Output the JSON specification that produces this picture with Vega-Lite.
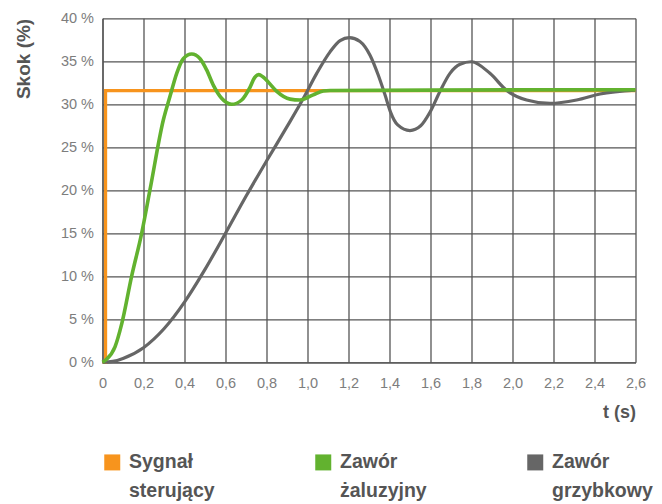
{
  "$schema": "https://vega.github.io/schema/vega-lite/v6.json",
  "width": 533,
  "height": 344,
  "autosize": {"type": "none"},
  "padding": {"left": 102.5, "top": 18.3, "right": 26.5, "bottom": 141.7},
  "background": "white",
  "config": {"view": {"stroke": null}, "font": "Liberation Sans"},
  "data": {"values": [
    {"s": "Sygnał sterujący", "t": 0, "v": 0},
    {"s": "Sygnał sterujący", "t": 0.015, "v": 0},
    {"s": "Sygnał sterujący", "t": 0.015, "v": 31.6},
    {"s": "Sygnał sterujący", "t": 2.6, "v": 31.6},

    {"s": "Zawór grzybkowy", "t": 0, "v": 0},
    {"s": "Zawór grzybkowy", "t": 0.05, "v": 0.1},
    {"s": "Zawór grzybkowy", "t": 0.1, "v": 0.45},
    {"s": "Zawór grzybkowy", "t": 0.2, "v": 1.7},
    {"s": "Zawór grzybkowy", "t": 0.3, "v": 3.9},
    {"s": "Zawór grzybkowy", "t": 0.4, "v": 7.0},
    {"s": "Zawór grzybkowy", "t": 0.5, "v": 10.8},
    {"s": "Zawór grzybkowy", "t": 0.6, "v": 15.0},
    {"s": "Zawór grzybkowy", "t": 0.7, "v": 19.3},
    {"s": "Zawór grzybkowy", "t": 0.8, "v": 23.4},
    {"s": "Zawór grzybkowy", "t": 0.9, "v": 27.4},
    {"s": "Zawór grzybkowy", "t": 0.98, "v": 30.7},
    {"s": "Zawór grzybkowy", "t": 1.045, "v": 33.6},
    {"s": "Zawór grzybkowy", "t": 1.11, "v": 36.1},
    {"s": "Zawór grzybkowy", "t": 1.159, "v": 37.4},
    {"s": "Zawór grzybkowy", "t": 1.204, "v": 37.75},
    {"s": "Zawór grzybkowy", "t": 1.256, "v": 37.3},
    {"s": "Zawór grzybkowy", "t": 1.305, "v": 35.7},
    {"s": "Zawór grzybkowy", "t": 1.345, "v": 33.4},
    {"s": "Zawór grzybkowy", "t": 1.378, "v": 31.1},
    {"s": "Zawór grzybkowy", "t": 1.405, "v": 29.1},
    {"s": "Zawór grzybkowy", "t": 1.44, "v": 27.6},
    {"s": "Zawór grzybkowy", "t": 1.5, "v": 26.95},
    {"s": "Zawór grzybkowy", "t": 1.552, "v": 27.5},
    {"s": "Zawór grzybkowy", "t": 1.598, "v": 29.1},
    {"s": "Zawór grzybkowy", "t": 1.646, "v": 31.5},
    {"s": "Zawór grzybkowy", "t": 1.695, "v": 33.6},
    {"s": "Zawór grzybkowy", "t": 1.744, "v": 34.65},
    {"s": "Zawór grzybkowy", "t": 1.8, "v": 34.95},
    {"s": "Zawór grzybkowy", "t": 1.89, "v": 33.6},
    {"s": "Zawór grzybkowy", "t": 1.972, "v": 31.6},
    {"s": "Zawór grzybkowy", "t": 2.069, "v": 30.5},
    {"s": "Zawór grzybkowy", "t": 2.183, "v": 30.1},
    {"s": "Zawór grzybkowy", "t": 2.313, "v": 30.5},
    {"s": "Zawór grzybkowy", "t": 2.427, "v": 31.2},
    {"s": "Zawór grzybkowy", "t": 2.6, "v": 31.65},

    {"s": "Zawór żaluzyjny", "t": 0, "v": 0},
    {"s": "Zawór żaluzyjny", "t": 0.017, "v": 0.3},
    {"s": "Zawór żaluzyjny", "t": 0.061, "v": 1.8},
    {"s": "Zawór żaluzyjny", "t": 0.094, "v": 4.5},
    {"s": "Zawór żaluzyjny", "t": 0.142, "v": 10.0},
    {"s": "Zawór żaluzyjny", "t": 0.191, "v": 15.0},
    {"s": "Zawór żaluzyjny", "t": 0.232, "v": 20.1},
    {"s": "Zawór żaluzyjny", "t": 0.297, "v": 28.2},
    {"s": "Zawór żaluzyjny", "t": 0.329, "v": 30.9},
    {"s": "Zawór żaluzyjny", "t": 0.362, "v": 33.6},
    {"s": "Zawór żaluzyjny", "t": 0.394, "v": 35.3},
    {"s": "Zawór żaluzyjny", "t": 0.435, "v": 35.85},
    {"s": "Zawór żaluzyjny", "t": 0.476, "v": 35.3},
    {"s": "Zawór żaluzyjny", "t": 0.508, "v": 34.0},
    {"s": "Zawór żaluzyjny", "t": 0.541, "v": 32.2},
    {"s": "Zawór żaluzyjny", "t": 0.581, "v": 30.7},
    {"s": "Zawór żaluzyjny", "t": 0.63, "v": 30.0},
    {"s": "Zawór żaluzyjny", "t": 0.679, "v": 30.5},
    {"s": "Zawór żaluzyjny", "t": 0.72, "v": 32.0},
    {"s": "Zawór żaluzyjny", "t": 0.742, "v": 33.1},
    {"s": "Zawór żaluzyjny", "t": 0.762, "v": 33.45},
    {"s": "Zawór żaluzyjny", "t": 0.782, "v": 33.2},
    {"s": "Zawór żaluzyjny", "t": 0.808, "v": 32.6},
    {"s": "Zawór żaluzyjny", "t": 0.85, "v": 31.5},
    {"s": "Zawór żaluzyjny", "t": 0.915, "v": 30.6},
    {"s": "Zawór żaluzyjny", "t": 0.963, "v": 30.5},
    {"s": "Zawór żaluzyjny", "t": 1.028, "v": 31.1},
    {"s": "Zawór żaluzyjny", "t": 1.077, "v": 31.55},
    {"s": "Zawór żaluzyjny", "t": 1.11, "v": 31.6},
    {"s": "Zawór żaluzyjny", "t": 1.6, "v": 31.65},
    {"s": "Zawór żaluzyjny", "t": 2.6, "v": 31.7}
  ]},
  "encoding": {
    "x": {
      "field": "t", "type": "quantitative",
      "scale": {"domain": [0, 2.6], "nice": false, "zero": false},
      "axis": {
        "values": [0, 0.2, 0.4, 0.6, 0.8, 1.0, 1.2, 1.4, 1.6, 1.8, 2.0, 2.2, 2.4, 2.6],
        "labelExpr": "datum.value == 0 ? '0' : replace(format(datum.value, '.1f'), '.', ',')",
        "labelFontSize": 14.5, "labelColor": "#7d7d7d", "labelPadding": 14, "labelFlush": false,
        "ticks": false, "grid": true, "gridColor": "#555555", "gridWidth": 1.3, "gridOpacity": 1,
        "domainColor": "#555555", "domainWidth": 1.3,
        "title": "t (s)", "titleAnchor": "end", "titleFontSize": 18, "titleFontWeight": "bold",
        "titleColor": "#555555", "titlePadding": 14
      }
    },
    "y": {
      "field": "v", "type": "quantitative",
      "scale": {"domain": [0, 40], "nice": false},
      "axis": {
        "values": [0, 5, 10, 15, 20, 25, 30, 35, 40],
        "labelExpr": "datum.value + ' %'",
        "labelFontSize": 14.5, "labelColor": "#7d7d7d", "labelPadding": 9,
        "ticks": false, "grid": true, "gridColor": "#555555", "gridWidth": 1.3, "gridOpacity": 1,
        "domainColor": "#555555", "domainWidth": 1.3,
        "title": "Skok (%)", "titleAnchor": "end", "titleFontSize": 19, "titleFontWeight": "bold",
        "titleColor": "#555555", "titlePadding": 27
      }
    },
    "color": {
      "field": "s", "type": "nominal",
      "scale": {"domain": ["Sygnał sterujący", "Zawór żaluzyjny", "Zawór grzybkowy"], "range": ["#f7941d", "#62b22f", "#666666"]},
      "legend": {
        "orient": "bottom", "direction": "horizontal", "title": null,
        "symbolType": "square", "symbolSize": 256, "symbolStrokeWidth": 0,
        "labelFont": "Liberation Sans", "labelFontSize": 19.5, "labelFontWeight": "bold", "labelColor": "#555555",
        "labelOffset": 7, "columnPadding": 98, "offset": 30, "padding": 0, "labelLimit": 300,
        "labelExpr": "split(datum.label, ' ')",
        "encode": {
          "labels": {"update": {"lineHeight": {"value": 29}}},
          "symbols": {"update": {"fill": {"scale": "color", "field": "value"}, "strokeWidth": {"value": 0}, "opacity": {"value": 1}}}
        }
      }
    }
  },
  "layer": [
    {"transform": [{"filter": "datum.s == 'Sygnał sterujący'"}], "mark": {"type": "line", "interpolate": "linear", "strokeWidth": 3.2}},
    {"transform": [{"filter": "datum.s == 'Zawór grzybkowy'"}], "mark": {"type": "line", "interpolate": "monotone", "strokeWidth": 3.2}},
    {"transform": [{"filter": "datum.s == 'Zawór żaluzyjny'"}], "mark": {"type": "line", "interpolate": "monotone", "strokeWidth": 3.6}}
  ]
}
